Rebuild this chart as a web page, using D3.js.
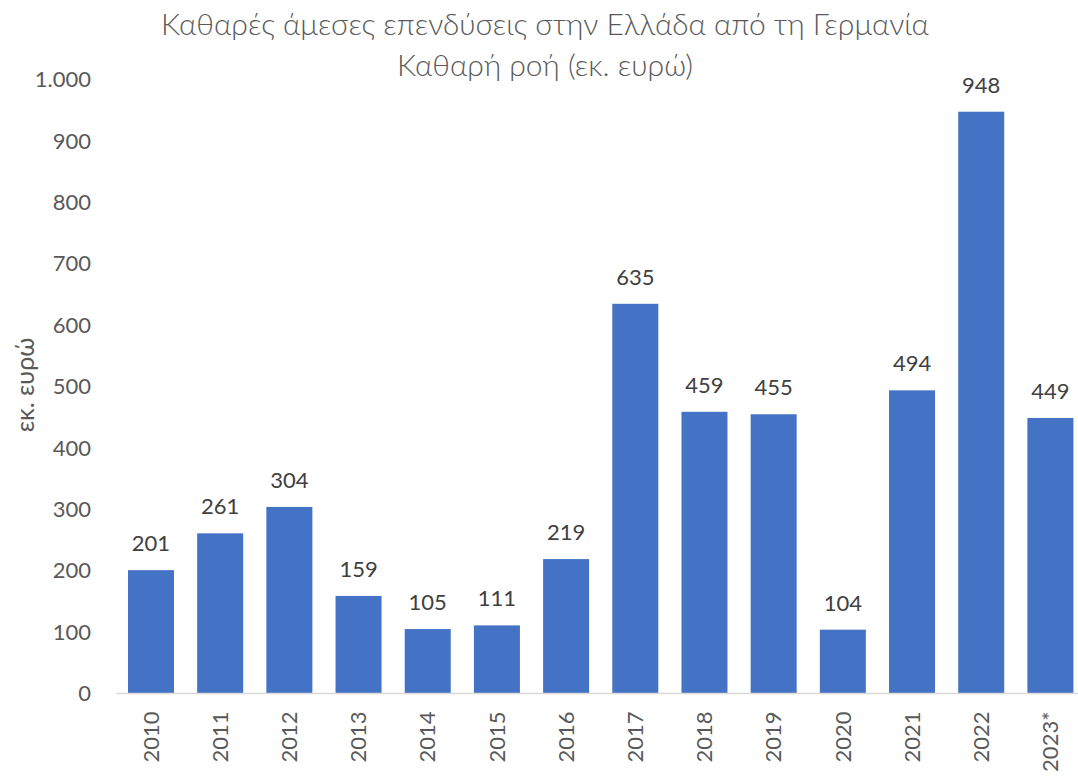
<!DOCTYPE html>
<html>
<head>
<meta charset="utf-8">
<script src="https://cdn.jsdelivr.net/npm/d3@7"></script>
<style>
  body { margin: 0; background: #fff; }
  svg text { font-family: Lato, "Open Sans", sans-serif; }
</style>
</head>
<body>
<svg id="chart" width="1078" height="776"></svg>
<script>
/** Chart data */
var years = ['2010', '2011', '2012', '2013', '2014', '2015', '2016', '2017', '2018', '2019', '2020', '2021', '2022', '2023*'];
var flows = [201, 261, 304, 159, 105, 111, 219, 635, 459, 455, 104, 494, 948, 449];
var yTicks = [0, 100, 200, 300, 400, 500, 600, 700, 800, 900, 1000];
var titleLines = ['Καθαρές άμεσες επενδύσεις στην Ελλάδα από τη Γερμανία', 'Καθαρή ροή (εκ. ευρώ)'];
var yLabel = 'εκ. ευρώ';

var svg = d3.select('#chart');

/** plot area */
var plotLeft = 116.4, plotRight = 1085, plotTop = 79.8, plotBottom = 693.5;

var x = d3.scaleBand()
    .domain(years)
    .range([plotLeft, plotRight])
    .paddingInner(0.335)
    .paddingOuter(0.1675);

var y = d3.scaleLinear()
    .domain([0, 1000])
    .range([plotBottom, plotTop]);

//title
svg.selectAll('.title').data(titleLines)
    .enter()
    .append('text')
    .attr('class', 'title')
    .attr('x', 545)
    .attr('y', function (d, i) { return 35 + i * 41; })
    .attr('text-anchor', 'middle')
    .style('font-size', '30px')
    .style('font-weight', 300)
    .style('fill', '#595959')
    .text(function (d) { return d; });

//y axis (labels only)
var yAxis = d3.axisLeft(y)
    .tickValues(yTicks)
    .tickSize(0)
    .tickPadding(0)
    .tickFormat(function (d) { return d3.format(',')(d).replace(/,/g, '.'); });

var gy = svg.append('g')
    .attr('transform', 'translate(91,0)')
    .call(yAxis);
gy.select('.domain').remove();
gy.selectAll('text')
    .style('font-size', '22px')
    .style('font-family', 'Lato, "Open Sans", sans-serif')
    .style('fill', '#595959');

svg.append('text')
    .attr('transform', 'translate(34,385) rotate(-90)')
    .attr('text-anchor', 'middle')
    .style('font-size', '25px')
    .style('fill', '#595959')
    .text(yLabel);

//bars
svg.selectAll('.bar').data(flows)
    .enter()
    .append('rect')
    .attr('class', 'bar')
    .attr('x', function (d, i) { return x(years[i]); })
    .attr('y', function (d) { return y(d); })
    .attr('width', x.bandwidth())
    .attr('height', function (d) { return y(0) - y(d); })
    .style('fill', '#4472C4');

//bar value labels
svg.selectAll('.barText').data(flows)
    .enter()
    .append('text')
    .attr('class', 'barText')
    .attr('x', function (d, i) { return x(years[i]) + x.bandwidth() / 2; })
    .attr('y', function (d) { return y(d) - 19; })
    .attr('text-anchor', 'middle')
    .style('font-size', '22px')
    .style('fill', '#404040')
    .text(function (d) { return d; });

//x axis
var xAxis = d3.axisBottom(x)
    .tickSize(0)
    .tickPadding(0);

var gx = svg.append('g')
    .attr('transform', 'translate(0,' + plotBottom + ')')
    .call(xAxis);
gx.select('.domain')
    .attr('d', 'M' + plotLeft + ',0H' + plotRight)
    .style('stroke', '#d9d9d9')
    .style('stroke-width', 1.5);
gx.selectAll('text')
    .attr('transform', 'rotate(-90)')
    .attr('x', -18)
    .attr('y', 0)
    .attr('dy', '0.35em')
    .attr('text-anchor', 'end')
    .style('font-size', '22px')
    .style('font-family', 'Lato, "Open Sans", sans-serif')
    .style('fill', '#595959');
</script>
</body>
</html>
